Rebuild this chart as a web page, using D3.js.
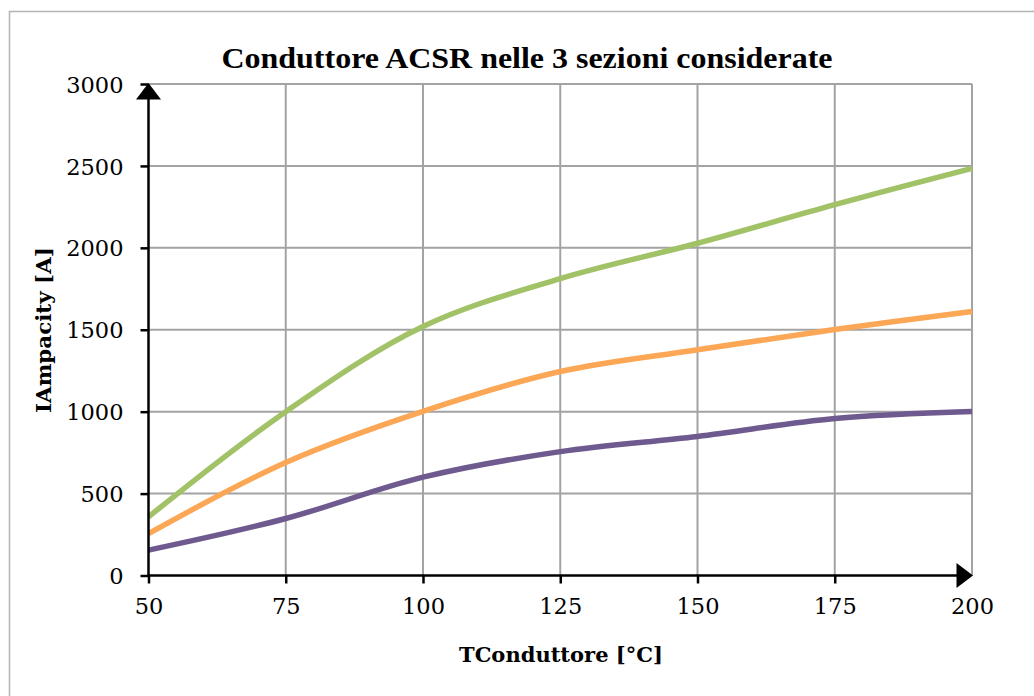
<!DOCTYPE html>
<html>
<head>
<meta charset="utf-8">
<script src="https://cdn.jsdelivr.net/npm/d3@7"></script>
<style>
  html, body { margin: 0; padding: 0; background: #fff; }
  svg { display: block; }
</style>
</head>
<body>
<svg id="chart" width="1034" height="696"></svg>
<script>
// Conductor temperature (°C) and ampacity (A) for the three ACSR sections
const temperatures = [50, 75, 100, 125, 150, 175, 200];
const sectionLarge  = [358, 1000, 1520, 1812, 2028, 2264, 2485];
const sectionMedium = [255, 690, 1002, 1245, 1378, 1502, 1612];
const sectionSmall  = [155, 348, 600, 756, 849, 958, 1001];
const xTicks = [50, 75, 100, 125, 150, 175, 200];
const yTicks = [0, 500, 1000, 1500, 2000, 2500, 3000];

const seriesList = [
  { name: "large",  values: sectionLarge,  color: "#a2c267" },
  { name: "medium", values: sectionMedium, color: "#fba755" },
  { name: "small",  values: sectionSmall,  color: "#6f5a8f" }
];

const svg = d3.select("#chart");
const W = 1034, H = 696;
const margin = { left: 148.5, right: W - 972, top: 84, bottom: H - 575.5 };

const x = d3.scaleLinear().domain([50, 200]).range([margin.left, W - margin.right]);
const y = d3.scaleLinear().domain([0, 3000]).range([H - margin.bottom, margin.top]);

// outer chart frame
svg.append("path")
  .attr("d", `M9.5,${H} L9.5,11.5 L${W},11.5`)
  .attr("fill", "none")
  .attr("stroke", "#b3b3b3")
  .attr("stroke-width", 1.5);

// grid
const grid = svg.append("g").attr("stroke", "#a3a3a3").attr("stroke-width", 2);
grid.selectAll("line.h").data(yTicks.filter(d => d > 0)).join("line")
  .attr("x1", x(50)).attr("x2", x(200))
  .attr("y1", d => y(d)).attr("y2", d => y(d));
grid.selectAll("line.v").data(xTicks.filter(d => d > 50)).join("line")
  .attr("x1", d => x(d)).attr("x2", d => x(d))
  .attr("y1", y(3000)).attr("y2", y(0));

// axes with ticks
const serif = "'DejaVu Serif', serif";
const yAxis = d3.axisLeft(y).tickValues(yTicks).tickSize(8).tickPadding(17).tickFormat(d3.format("d"));
const xAxis = d3.axisBottom(x).tickValues(xTicks).tickSize(8).tickPadding(14).tickFormat(d3.format("d"));

const gy = svg.append("g").attr("transform", `translate(${margin.left},0)`).call(yAxis);
const gx = svg.append("g").attr("transform", `translate(0,${y(0)})`).call(xAxis);
[gx, gy].forEach(g => {
  g.select(".domain").remove();
  g.selectAll(".tick line").attr("stroke", "#000").attr("stroke-width", 2.5);
  g.selectAll(".tick text")
    .attr("fill", "#000")
    .style("font-family", serif)
    .style("font-size", "22.5px");
});
gy.selectAll(".tick text").attr("dy", "0.36em");
gx.selectAll(".tick text").attr("dy", "0.72em");
// the last x tick coincides with the arrow head
gx.selectAll(".tick").filter(d => d === 200).select("line").remove();

// data lines
const line = d3.line()
  .x((d, i) => x(temperatures[i]))
  .y(d => y(d))
  .curve(d3.curveCatmullRom.alpha(0.5));

svg.append("g").selectAll("path").data(seriesList).join("path")
  .attr("d", s => line(s.values))
  .attr("fill", "none")
  .attr("stroke", s => s.color)
  .attr("stroke-width", 5.5)
  .attr("stroke-linecap", "butt");

// axis lines with arrow heads
svg.append("line")
  .attr("x1", x(50)).attr("x2", x(50))
  .attr("y1", y(0) + 1).attr("y2", y(3000) + 8)
  .attr("stroke", "#000").attr("stroke-width", 2.5);
svg.append("line")
  .attr("x1", x(50) - 1).attr("x2", x(200) - 8)
  .attr("y1", y(0)).attr("y2", y(0))
  .attr("stroke", "#000").attr("stroke-width", 2.5);

const ax = x(50), ay = y(3000);
svg.append("path")
  .attr("d", `M${ax},${ay - 1} L${ax + 12.5},${ay + 15.5} L${ax - 12.5},${ay + 15.5} Z`)
  .attr("fill", "#000");
const bx = x(200), by = y(0);
svg.append("path")
  .attr("d", `M${bx + 1},${by} L${bx - 15.5},${by - 12.5} L${bx - 15.5},${by + 12.5} Z`)
  .attr("fill", "#000");

// title
svg.append("text")
  .attr("x", 527).attr("y", 68)
  .attr("text-anchor", "middle")
  .attr("textLength", 611)
  .attr("lengthAdjust", "spacingAndGlyphs")
  .style("font-family", "'Liberation Serif', 'Times New Roman', serif")
  .style("font-weight", "bold")
  .style("font-size", "30px")
  .text("Conduttore ACSR nelle 3 sezioni considerate");

// axis titles
svg.append("text")
  .attr("x", 561).attr("y", 662)
  .attr("text-anchor", "middle")
  .attr("textLength", 204)
  .attr("lengthAdjust", "spacingAndGlyphs")
  .style("font-family", serif)
  .style("font-weight", "bold")
  .style("font-size", "21px")
  .text("TConduttore [°C]");

svg.append("text")
  .attr("transform", "translate(51,330) rotate(-90)")
  .attr("text-anchor", "middle")
  .attr("textLength", 166)
  .attr("lengthAdjust", "spacingAndGlyphs")
  .style("font-family", serif)
  .style("font-weight", "bold")
  .style("font-size", "21px")
  .text("IAmpacity [A]");
</script>
</body>
</html>
